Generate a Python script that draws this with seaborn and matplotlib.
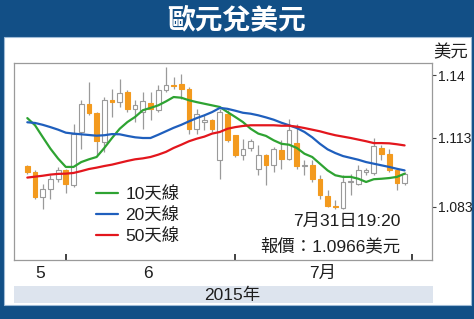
import numpy as np
import pandas as pd
import matplotlib
matplotlib.use("Agg")
import matplotlib.pyplot as plt
import seaborn as sns
from matplotlib.patches import Rectangle
from matplotlib.lines import Line2D

# ---------------- data (EUR/USD daily candles, late May - 31 Jul 2015) ----------------
opens = [1.1007, 1.0981, 1.0873, 1.0909, 1.0952, 1.0988, 1.0924, 1.1154, 1.1273, 1.1237,
         1.1111, 1.1291, 1.1283, 1.1327, 1.1254, 1.1240, 1.1280, 1.1248, 1.1334, 1.1358,
         1.1362, 1.1341, 1.1168, 1.1197, 1.1204, 1.1032, 1.1233, 1.1140, 1.1056, 1.1085,
         1.0993, 1.1053, 1.1013, 1.1075, 1.1039, 1.1108, 1.1007, 1.1010, 1.0950, 1.0878,
         1.0834, 1.0826, 1.0938, 1.0931, 1.0982, 1.0978, 1.1086, 1.1060, 1.0988, 1.0935]
closes = [1.0981, 1.0873, 1.0909, 1.0952, 1.0988, 1.0931, 1.1147, 1.1276, 1.1237, 1.1114,
          1.1291, 1.1283, 1.1324, 1.1254, 1.1272, 1.1286, 1.1254, 1.1334, 1.1358, 1.1352,
          1.1341, 1.1168, 1.1233, 1.1204, 1.1168, 1.1240, 1.1118, 1.1053, 1.1082, 1.1114,
          1.1053, 1.1013, 1.1079, 1.1039, 1.1161, 1.1007, 1.1013, 1.0952, 1.0881, 1.0834,
          1.0828, 1.0938, 1.0944, 1.0988, 1.0988, 1.1093, 1.1060, 1.0988, 1.0935, 1.0974]
highs = [1.1010, 1.0988, 1.0931, 1.0967, 1.1003, 1.0995, 1.1190, 1.1291, 1.1370, 1.1240,
         1.1305, 1.1341, 1.1384, 1.1334, 1.1291, 1.1327, 1.1327, 1.1356, 1.1435, 1.1391,
         1.1406, 1.1348, 1.1254, 1.1226, 1.1211, 1.1254, 1.1248, 1.1142, 1.1125, 1.1122,
         1.1096, 1.1060, 1.1089, 1.1118, 1.1211, 1.1190, 1.1032, 1.1032, 1.0967, 1.0902,
         1.0859, 1.0967, 1.0974, 1.1010, 1.0999, 1.1128, 1.1096, 1.1082, 1.0995, 1.0981]
lows = [1.0974, 1.0866, 1.0823, 1.0866, 1.0938, 1.0892, 1.0916, 1.1082, 1.1226, 1.1053,
        1.1068, 1.1219, 1.1262, 1.1240, 1.1197, 1.1168, 1.1204, 1.1240, 1.1327, 1.1341,
        1.1298, 1.1147, 1.1147, 1.1161, 1.1154, 1.0952, 1.1111, 1.1046, 1.1032, 1.1070,
        1.0967, 1.0924, 1.0981, 1.0993, 1.1032, 1.0995, 1.0967, 1.0938, 1.0866, 1.0830,
        1.0823, 1.0823, 1.0881, 1.0924, 1.0967, 1.0967, 1.1032, 1.0981, 1.0902, 1.0925]

ma10 = [1.1214, 1.1183, 1.1132, 1.1082, 1.1039, 1.1003, 1.1003, 1.1024, 1.1036, 1.1046,
        1.1085, 1.1128, 1.1168, 1.1197, 1.1219, 1.1248, 1.1258, 1.1269, 1.1286, 1.1305,
        1.1302, 1.1291, 1.1283, 1.1276, 1.1269, 1.1262, 1.1240, 1.1219, 1.1197, 1.1168,
        1.1147, 1.1137, 1.1118, 1.1103, 1.1099, 1.1085, 1.1060, 1.1046, 1.1017, 1.0988,
        1.0967, 1.0960, 1.0960, 1.0952, 1.0938, 1.0950, 1.0952, 1.0955, 1.0960, 1.0974]
ma20 = [1.1196, 1.1193, 1.1185, 1.1175, 1.1164, 1.1151, 1.1147, 1.1144, 1.1141, 1.1138,
        1.1140, 1.1145, 1.1144, 1.1137, 1.1131, 1.1128, 1.1128, 1.1142, 1.1157, 1.1172,
        1.1185, 1.1200, 1.1214, 1.1226, 1.1240, 1.1258, 1.1254, 1.1246, 1.1237, 1.1233,
        1.1226, 1.1217, 1.1207, 1.1194, 1.1183, 1.1171, 1.1154, 1.1131, 1.1103, 1.1079,
        1.1063, 1.1050, 1.1042, 1.1034, 1.1024, 1.1017, 1.1010, 1.1003, 1.0995, 1.0988]
ma50 = [1.0957, 1.0961, 1.0965, 1.0970, 1.0973, 1.0974, 1.0977, 1.0985, 1.0994, 1.1000,
        1.1007, 1.1013, 1.1021, 1.1029, 1.1036, 1.1040, 1.1046, 1.1056, 1.1068, 1.1085,
        1.1099, 1.1114, 1.1125, 1.1134, 1.1147, 1.1154, 1.1168, 1.1175, 1.1180, 1.1183,
        1.1183, 1.1183, 1.1183, 1.1181, 1.1181, 1.1177, 1.1171, 1.1164, 1.1157, 1.1148,
        1.1140, 1.1134, 1.1128, 1.1121, 1.1114, 1.1106, 1.1106, 1.1105, 1.1101, 1.1096]

ma_labels = ["10天線", "20天線", "50天線"]
month_labels = ["5", "6", "7月"]
y_ticks = [1.14, 1.113, 1.083]
y_tick_labels = ["1.14", "1.113", "1.083"]
title = "歐元兌美元"
unit = "美元"
note_time = "7月31日19:20"
note_price = "報價：1.0966美元"
year_label = "2015年"

# ---------------- style ----------------
sns.set_theme(style="white")
CJK = "Noto Sans CJK TC"
plt.rcParams["font.family"] = ["Liberation Sans", CJK, "DejaVu Sans"]

DARK = "#124f86"
ORANGE = "#f39a1e"
GRAYLINE = "#9a9a9a"
TXT = "#1e1e1e"
FS = 12.5

W, H = 474, 319
fig = plt.figure(figsize=(W / 100, H / 100), dpi=100, facecolor=DARK)


def fx(x):
    return x / W


def fy(y):
    return 1 - y / H


# white panel and date strip
fig.patches.append(Rectangle((fx(4), fy(305)), (471 - 4) / W, (305 - 37) / H,
                             transform=fig.transFigure, facecolor="white",
                             edgecolor="#9fbbd6", lw=0.8, zorder=-2))
fig.patches.append(Rectangle((fx(14), fy(303)), (433 - 14) / W, (303 - 286) / H,
                             transform=fig.transFigure, facecolor="#dde4ee",
                             edgecolor="none", zorder=-1))

ax = fig.add_axes([fx(14), fy(260), (432 - 14) / W, (260 - 63) / H])
ax.set_facecolor("white")

n = len(opens)
idx = np.arange(n)
o = np.array(opens)
c = np.array(closes)
up = c >= o

# wicks
ax.vlines(idx, lows, highs, color=GRAYLINE, lw=0.9, zorder=2)
# bodies
bottoms = np.minimum(o, c)
heights = np.maximum(np.abs(c - o), 0.0004)
face = [("white" if u else ORANGE) for u in up]
edge = [(GRAYLINE if u else ORANGE) for u in up]
ax.bar(idx, heights, bottom=bottoms, width=0.62, color=face, edgecolor=edge,
       linewidth=0.8, zorder=3)

# moving averages
df = pd.DataFrame({
    "i": np.concatenate([idx, idx, idx]),
    "value": np.concatenate([ma10, ma20, ma50]),
    "series": [ma_labels[0]] * n + [ma_labels[1]] * n + [ma_labels[2]] * n,
})
palette = {ma_labels[0]: "#2ea332", ma_labels[1]: "#1f5fbd", ma_labels[2]: "#e3161d"}
sns.lineplot(data=df, x="i", y="value", hue="series", palette=palette,
             linewidth=1.6, ax=ax, legend=False, zorder=4)

ax.set_xlim(-1.73, 52.56)
ax.set_ylim(1.0601, 1.1452)
ax.set_xlabel("")
ax.set_ylabel("")

# axes styling
for s in ax.spines.values():
    s.set_color("#9a9a9a")
    s.set_linewidth(0.9)

ax.yaxis.tick_right()
ax.set_yticks(y_ticks)
ax.set_yticklabels(y_tick_labels)
ax.tick_params(axis="y", which="major", right=True, left=False, direction="out",
               length=3, width=0.8, color="#444", pad=1.5, labelsize=10, labelcolor=TXT)

ax.set_xticks([5, 27, 50])
ax.set_xticklabels([])
ax.tick_params(axis="x", which="major", bottom=True, direction="in", length=4,
               width=1.3, color="#333")
ax.set_xticks([1.65, 15.67, 38.4], minor=True)
ax.set_xticklabels(month_labels, minor=True)
ax.tick_params(axis="x", which="minor", bottom=True, length=0, pad=4,
               labelsize=FS, labelcolor=TXT)
ax.grid(False)

# legend
handles = [Line2D([], [], color=palette[l], lw=1.6) for l in ma_labels]
ax.legend(handles, ma_labels, loc="upper left", bbox_to_anchor=(fx(96), fy(186)),
          bbox_transform=fig.transFigure, frameon=False, fontsize=FS,
          handlelength=1.25, handletextpad=0.45, labelspacing=0.28,
          borderpad=0, borderaxespad=0, labelcolor=TXT)

# texts
fig.text(0.5, fy(20), title, ha="center", va="center", color="white",
         fontsize=20, fontweight="bold", family=[CJK])
fig.text(fx(451), fy(52), unit, ha="center", va="center", fontsize=FS, color=TXT)
fig.text(fx(400), fy(221), note_time, ha="right", va="center", fontsize=FS, color=TXT)
fig.text(fx(400), fy(246), note_price, ha="right", va="center", fontsize=FS, color=TXT)
fig.text(fx(232), fy(295), year_label, ha="center", va="center", fontsize=FS, color=TXT)

fig.savefig("out.png", dpi=100, facecolor=DARK)
